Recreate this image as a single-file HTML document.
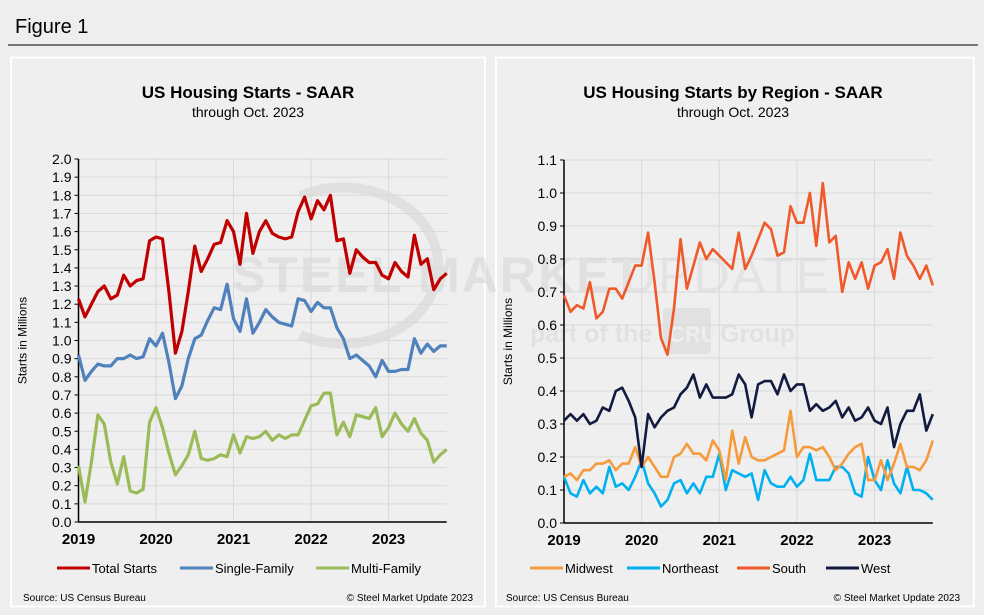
<!DOCTYPE html>
<html><head><meta charset="utf-8"><style>
body{margin:0;background:#eeeeee;}
svg{display:block;font-family:"Liberation Sans",Arial,sans-serif;}
</style></head><body>
<svg id="fig" width="984" height="615" viewBox="0 0 984 615">
<rect x="0" y="0" width="984" height="615" fill="#eeeeee"/>
<text x="15" y="33" font-size="20" fill="#000">Figure 1</text>
<line x1="8" y1="45" x2="978" y2="45" stroke="#000" stroke-width="1"/>
<rect x="11" y="57.5" width="474" height="549" fill="#efefef" stroke="#fff" stroke-width="2"/>
<rect x="496" y="57.5" width="478" height="549" fill="#efefef" stroke="#fff" stroke-width="2"/>
<g opacity="0.45">
<path d="M 300 196 A 95 78 0 1 1 300 335" fill="none" stroke="#cfcfcf" stroke-width="10"/>
<text x="232" y="292" font-size="50" font-weight="bold" fill="#cfcfcf" letter-spacing="2">STEEL MARKET</text>
<text x="620" y="292" font-size="50" fill="#d6d6d6" letter-spacing="2">UPDATE</text>
<text x="530" y="342" font-size="25" font-weight="bold" fill="#d2d2d2">part of the</text>
<rect x="663" y="308" width="48" height="46" rx="4" fill="#d2d2d2"/>
<text x="669" y="342" font-size="22" font-weight="bold" fill="#eeeeee">CRU</text>
<text x="720" y="342" font-size="25" font-weight="bold" fill="#d2d2d2">Group</text>
</g>
<g id="left"></g>
<g id="right"></g>
</svg>
<script>
const months = 58;
const yearLabels = ["2019","2020","2021","2022","2023"];
const leftTicks = [0,0.1,0.2,0.3,0.4,0.5,0.6,0.7,0.8,0.9,1.0,1.1,1.2,1.3,1.4,1.5,1.6,1.7,1.8,1.9,2.0];
const rightTicks = [0,0.1,0.2,0.3,0.4,0.5,0.6,0.7,0.8,0.9,1.0,1.1];
const totalStarts = [1.23,1.13,1.20,1.27,1.30,1.23,1.25,1.36,1.30,1.33,1.34,1.55,
1.57,1.56,1.27,0.93,1.05,1.27,1.52,1.38,1.45,1.53,1.54,1.66,
1.60,1.42,1.70,1.48,1.60,1.66,1.59,1.57,1.56,1.57,1.71,1.79,
1.67,1.77,1.72,1.80,1.55,1.56,1.37,1.50,1.46,1.43,1.43,1.36,
1.34,1.43,1.38,1.35,1.58,1.42,1.45,1.28,1.34,1.37];
const singleFamily = [0.92,0.78,0.83,0.87,0.86,0.86,0.90,0.90,0.92,0.90,0.91,1.01,
0.97,1.04,0.88,0.68,0.75,0.90,1.01,1.03,1.11,1.18,1.17,1.31,
1.12,1.05,1.23,1.04,1.10,1.17,1.13,1.10,1.09,1.08,1.23,1.22,
1.16,1.21,1.18,1.18,1.07,1.01,0.90,0.92,0.89,0.86,0.80,0.89,
0.83,0.83,0.84,0.84,1.01,0.93,0.98,0.94,0.97,0.97];
const multiFamily = [0.31,0.11,0.33,0.59,0.54,0.33,0.21,0.36,0.17,0.16,0.18,0.55,
0.63,0.52,0.38,0.26,0.31,0.37,0.50,0.35,0.34,0.35,0.37,0.36,
0.48,0.38,0.47,0.46,0.47,0.50,0.45,0.48,0.46,0.48,0.48,0.56,
0.64,0.65,0.71,0.71,0.48,0.55,0.47,0.59,0.58,0.57,0.63,0.47,
0.52,0.60,0.54,0.50,0.57,0.49,0.45,0.33,0.37,0.40];
const south = [0.69,0.64,0.66,0.65,0.73,0.62,0.64,0.71,0.71,0.68,0.73,0.78,
0.78,0.88,0.73,0.56,0.51,0.65,0.86,0.71,0.78,0.85,0.80,0.83,
0.81,0.79,0.77,0.88,0.77,0.81,0.86,0.91,0.89,0.81,0.82,0.96,
0.91,0.91,1.00,0.84,1.03,0.85,0.87,0.70,0.79,0.74,0.79,0.71,
0.78,0.79,0.83,0.74,0.88,0.81,0.78,0.74,0.78,0.72];
const west = [0.31,0.33,0.31,0.33,0.30,0.31,0.35,0.34,0.40,0.41,0.37,0.32,
0.17,0.33,0.29,0.32,0.34,0.35,0.39,0.41,0.45,0.38,0.42,0.38,
0.38,0.38,0.39,0.45,0.42,0.32,0.42,0.43,0.43,0.39,0.45,0.40,
0.42,0.42,0.34,0.36,0.34,0.35,0.37,0.32,0.35,0.31,0.32,0.35,
0.31,0.30,0.35,0.23,0.30,0.34,0.34,0.39,0.28,0.33];
const midwest = [0.14,0.15,0.13,0.16,0.16,0.18,0.18,0.19,0.16,0.18,0.18,0.23,
0.17,0.20,0.17,0.14,0.14,0.20,0.21,0.24,0.21,0.21,0.19,0.25,
0.22,0.13,0.28,0.18,0.26,0.20,0.19,0.19,0.20,0.21,0.22,0.34,
0.20,0.23,0.23,0.22,0.23,0.20,0.16,0.18,0.21,0.23,0.24,0.13,
0.13,0.19,0.13,0.18,0.24,0.17,0.17,0.16,0.19,0.25];
const northeast = [0.14,0.09,0.08,0.13,0.09,0.11,0.09,0.17,0.11,0.12,0.10,0.14,
0.19,0.12,0.09,0.05,0.07,0.12,0.13,0.09,0.12,0.09,0.14,0.14,
0.21,0.10,0.16,0.15,0.14,0.15,0.07,0.16,0.12,0.11,0.11,0.14,
0.11,0.13,0.21,0.13,0.13,0.13,0.17,0.17,0.15,0.09,0.08,0.20,
0.13,0.10,0.19,0.12,0.09,0.17,0.10,0.10,0.09,0.07];

const NS="http://www.w3.org/2000/svg";
function mk(parent,tag,attrs,text){const e=document.createElementNS(NS,tag);for(const k in attrs)e.setAttribute(k,attrs[k]);if(text!==undefined)e.textContent=text;parent.appendChild(e);return e;}

function drawChart(g,cfg){
  const xs=i=>cfg.x0+i*cfg.pxMonth;
  const ys=v=>cfg.yBottom-(v/cfg.yMax)*(cfg.yBottom-cfg.yTop);
  const t1=mk(g,"text",{x:cfg.cx,y:98,"text-anchor":"middle","font-size":"17","font-weight":"bold",fill:"#000"},cfg.title);
  
  
  const t2=mk(g,"text",{x:cfg.cx,y:117,"text-anchor":"middle","font-size":"14",fill:"#000"},"through Oct. 2023");
  
  
  const xEnd=xs(months-1);
  cfg.ticks.forEach(v=>{
    const y=ys(v);
    if(v>0){const gl=mk(g,"line",{x1:cfg.x0,x2:xEnd,y1:y,y2:y,stroke:"#d9d9d9","stroke-width":1});
    
    }
    const tk=mk(g,"line",{x1:cfg.x0-4,x2:cfg.x0,y1:y,y2:y,stroke:"#000"});
    
    
    const lb=mk(g,"text",{x:cfg.x0-7,y:y+5,"text-anchor":"end","font-size":"14",fill:"#000"},v.toFixed(1));
    
    
  });
  yearLabels.forEach((l,i)=>{
    const x=xs(i*12);
    if(i>0){const gl=mk(g,"line",{x1:x,x2:x,y1:cfg.yTop,y2:cfg.yBottom,stroke:"#d9d9d9"});
    
    }
    const lb=mk(g,"text",{x:x,y:cfg.yBottom+22,"text-anchor":"middle","font-size":"15","font-weight":"bold",fill:"#000"},l);
    
    
  });
  const ax=mk(g,"line",{x1:cfg.x0,x2:cfg.x0,y1:cfg.yTop,y2:cfg.yBottom,stroke:"#000","stroke-width":1.5});
  
  
  const bx=mk(g,"line",{x1:cfg.x0,x2:xEnd,y1:cfg.yBottom,y2:cfg.yBottom,stroke:"#000","stroke-width":1.5});
  
  
  const yt=mk(g,"text",{x:0,y:0,transform:`translate(${cfg.x0-52},${(cfg.yTop+cfg.yBottom)/2}) rotate(-90)`,"text-anchor":"middle","font-size":"12",fill:"#000"},"Starts in Millions");
  
  
  cfg.series.forEach(s=>{
    const p=s.data.map((v,i)=>(i?"L":"M")+xs(i).toFixed(1)+","+ys(v).toFixed(1)).join("");
    const path=mk(g,"path",{d:p,fill:"none",stroke:s.color,"stroke-width":s.w,"stroke-linejoin":"round"});
    
    
  });
  cfg.legend.forEach(L=>{
    const ln=mk(g,"line",{x1:L.x,x2:L.x+33,y1:568,y2:568,stroke:L.color,"stroke-width":3});
    
    
    const lt=mk(g,"text",{x:L.x+35,y:573,"font-size":"13",fill:"#000"},L.label);
    
    
  });
  const s1=mk(g,"text",{x:cfg.srcX,y:601,"font-size":"10",fill:"#000"},"Source: US Census Bureau");
  
  
  const s2=mk(g,"text",{x:cfg.copyX,y:601,"text-anchor":"end","font-size":"10",fill:"#000"},"© Steel Market Update 2023");
  
  
}

drawChart(document.getElementById('left'),{
  title:"US Housing Starts - SAAR",cx:248,x0:78.5,pxMonth:6.46,yTop:159,yBottom:522,yMax:2.0,ticks:leftTicks,
  series:[{name:'multi-family',data:multiFamily,color:'#9bbb59',w:3.2},{name:'single-family',data:singleFamily,color:'#4f81bd',w:3.2},{name:'total-starts',data:totalStarts,color:'#c00000',w:3.2}],
  legend:[{x:57,color:'#c00000',label:'Total Starts'},{x:180,color:'#4f81bd',label:'Single-Family'},{x:316,color:'#9bbb59',label:'Multi-Family'}],
  srcX:23,copyX:473
});
drawChart(document.getElementById('right'),{
  title:"US Housing Starts by Region - SAAR",cx:733,x0:564,pxMonth:6.47,yTop:160,yBottom:523,yMax:1.1,ticks:rightTicks,
  series:[{name:'northeast',data:northeast,color:'#00b0f0',w:2.6},{name:'midwest',data:midwest,color:'#f79a3c',w:2.6},{name:'west',data:west,color:'#131a40',w:2.6},{name:'south',data:south,color:'#f0592a',w:2.6}],
  legend:[{x:530,color:'#f79a3c',label:'Midwest'},{x:627,color:'#00b0f0',label:'Northeast'},{x:737,color:'#f0592a',label:'South'},{x:826,color:'#131a40',label:'West'}],
  srcX:506,copyX:960
});
</script>
</body></html>
